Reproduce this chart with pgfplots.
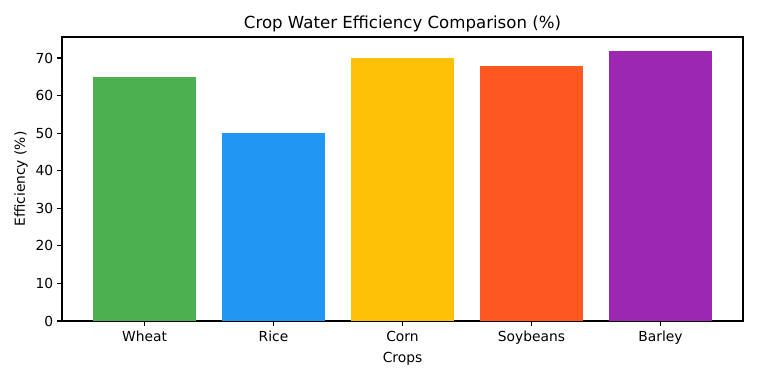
\documentclass[border=0pt]{standalone}
\usepackage{fontspec}
\setmainfont{DejaVu Sans}
\usepackage{pgfplots}
\pgfplotsset{compat=1.18}

\definecolor{cWheat}{HTML}{4CAF50}
\definecolor{cRice}{HTML}{2196F3}
\definecolor{cCorn}{HTML}{FFC107}
\definecolor{cSoy}{HTML}{FF5722}
\definecolor{cBarley}{HTML}{9C27B0}

\begin{document}
\begin{tikzpicture}
\begin{axis}[
  name=ax,
  scale only axis,
  width=6.81in, height=2.84in,
  xmin=-0.64, xmax=4.64,
  ymin=0, ymax=75.6,
  xtick={0,1,2,3,4},
  xticklabels={Wheat,Rice,Corn,Soybeans,Barley},
  ytick={0,10,20,30,40,50,60,70},
  tick align=outside,
  major tick length=3.5pt,
  tick style={black, line width=0.8pt},
  axis line style={line width=0.8pt},
  xtick pos=bottom, ytick pos=left,
  /pgf/number format/assume math mode=true,
  tick label style={font=\fontsize{10}{12}\selectfont},
  x tick label style={inner sep=0pt, anchor=north, yshift=-3.4pt},
  y tick label style={inner sep=0pt, anchor=east, xshift=-2.7pt},
  title={Crop Water Efficiency Comparison (\%)},
  title style={font=\fontsize{12}{14}\selectfont, at={(rel axis cs:0.5,1)}, anchor=base, yshift=0pt, inner sep=0pt},
  xlabel={Crops},
  xlabel style={font=\fontsize{10}{12}\selectfont, at={(rel axis cs:0.5,0)}, anchor=center, yshift=-0.38in},
  ylabel={Efficiency (\%)},
  ylabel style={font=\fontsize{10}{12}\selectfont, at={(rel axis cs:0,0.5)}, anchor=center, rotate=0, yshift=0.41in, xshift=0pt},
]
\addplot[ybar, bar width=0.8, bar shift=0pt, fill=cWheat, draw=none] coordinates {(0,65)};
\addplot[ybar, bar width=0.8, bar shift=0pt, fill=cRice, draw=none] coordinates {(1,50)};
\addplot[ybar, bar width=0.8, bar shift=0pt, fill=cCorn, draw=none] coordinates {(2,70)};
\addplot[ybar, bar width=0.8, bar shift=0pt, fill=cSoy, draw=none] coordinates {(3,68)};
\addplot[ybar, bar width=0.8, bar shift=0pt, fill=cBarley, draw=none] coordinates {(4,72)};
\end{axis}
\pgfresetboundingbox
\path[use as bounding box] ([shift={(-0.62in,-0.58in)}]ax.south west) rectangle ([shift={(0.15in,0.37in)}]ax.north east);
\end{tikzpicture}
\end{document}
